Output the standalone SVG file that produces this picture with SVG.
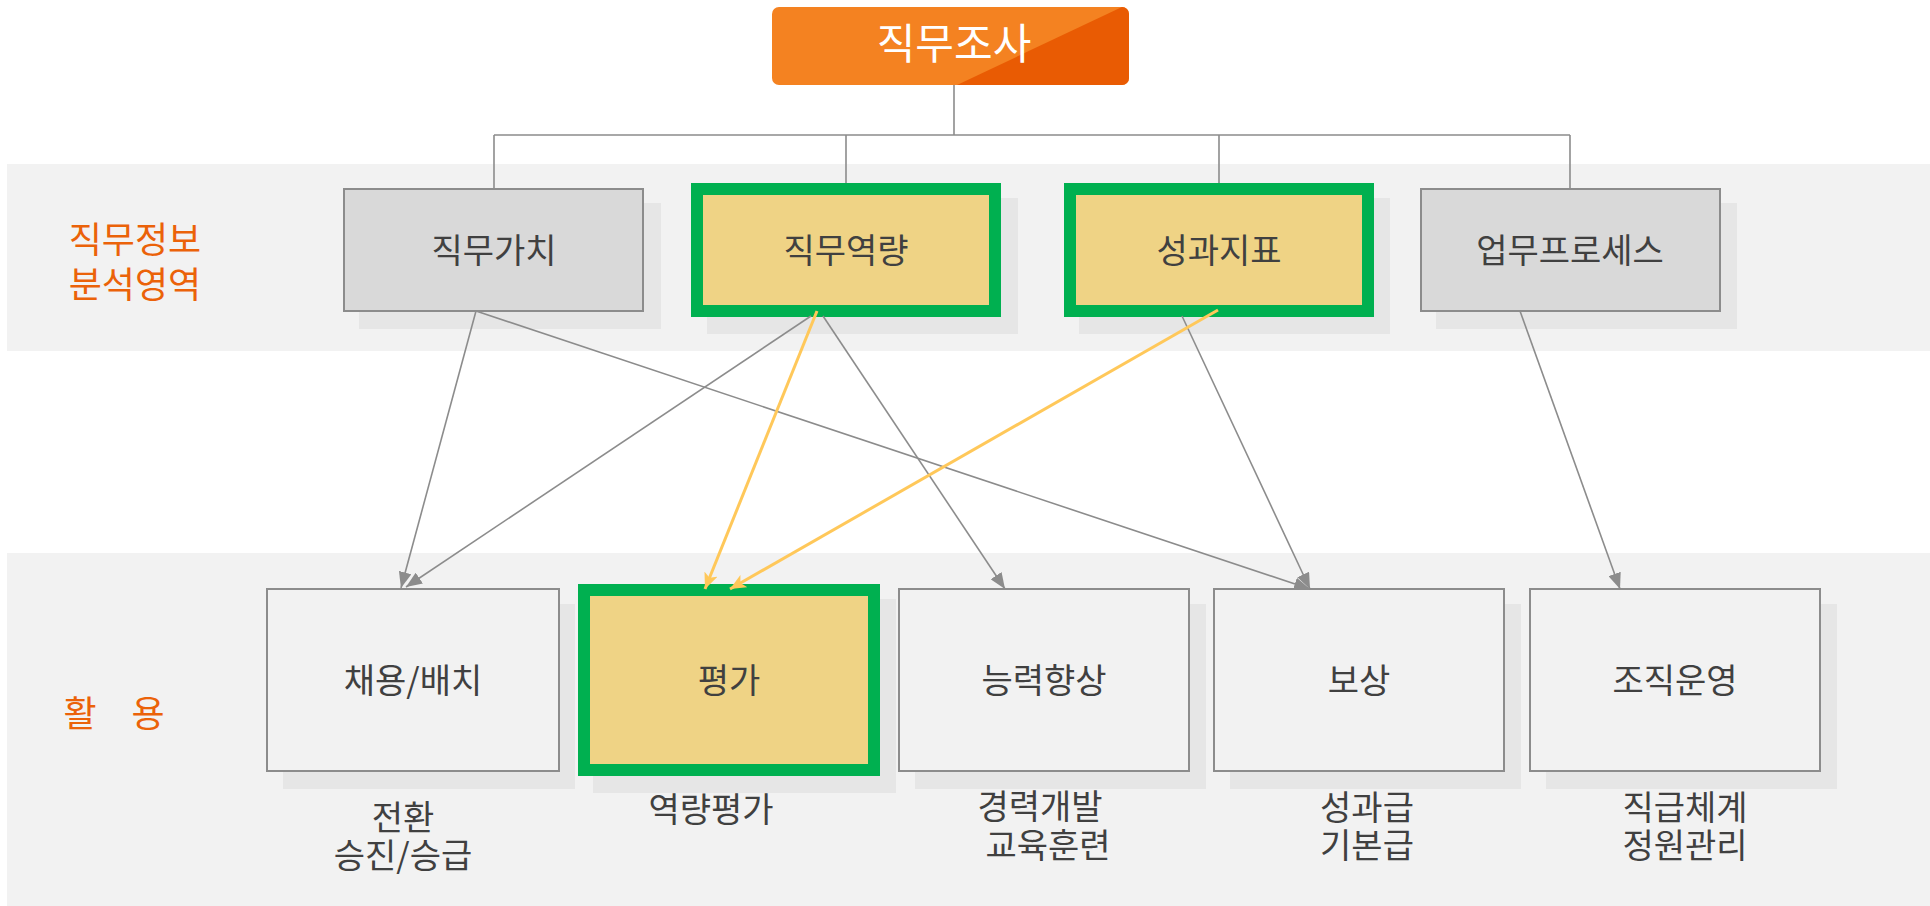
<svg xmlns="http://www.w3.org/2000/svg" width="1930" height="906" viewBox="0 0 1930 906">
<style>
.band{fill:#F2F2F2}
.shadow{fill:#E6E6E6}
.gbox{fill:#D9D9D9;stroke:#8C8C8C;stroke-width:2}
.lbox{fill:#F2F2F2;stroke:#8C8C8C;stroke-width:2}
.hbox{fill:#EFD385;stroke:#00B050;stroke-width:12}
.t{font-family:"Noto Sans CJK KR","Noto Sans",sans-serif;font-size:34px;fill:#404040;text-anchor:middle}
.side{font-family:"Noto Sans CJK KR","Noto Sans",sans-serif;font-size:36px;fill:#EB6209;text-anchor:middle}
.title{font-family:"Noto Sans CJK KR","Noto Sans",sans-serif;font-size:42px;fill:#FFFFFF;text-anchor:middle}
.tree{fill:none;stroke:#8C8C8C;stroke-width:1.6}
.g{fill:none;stroke:#8C8C8C;stroke-width:1.6;marker-end:url(#ag)}
.y{fill:none;stroke:#FFC85A;stroke-width:3;marker-end:url(#ay)}
</style>
<defs>
<marker id="ag" markerUnits="userSpaceOnUse" markerWidth="17" markerHeight="13" refX="16" refY="6.5" orient="auto">
<path d="M0,0 L16,6.5 L0,13 z" fill="#8C8C8C"/>
</marker>
<marker id="ay" markerUnits="userSpaceOnUse" markerWidth="17" markerHeight="14" refX="16" refY="7" orient="auto">
<path d="M0,0 L16,7 L0,14 L4,7 z" fill="#FFC85A"/>
</marker>
<clipPath id="topclip"><rect x="772" y="7" width="357" height="78" rx="7"/></clipPath>
</defs>
<rect class="band" x="7" y="164" width="1923" height="187"/>
<rect class="band" x="7" y="553" width="1923" height="353"/>
<text class="side" x="135" y="253">직무정보</text>
<text class="side" x="135" y="298">분석영역</text>
<text class="side" x="80" y="727">활</text>
<text class="side" x="148" y="727">용</text>
<g id="tree-lines">
<path class="tree" d="M954,85 V135 M494,135 H1570 M494,135 V189 M846,135 V183 M1219,135 V183 M1570,135 V189"/>
</g>
<g id="node-top">
<rect x="772" y="7" width="357" height="78" rx="7" fill="#F48221"/>
<polygon points="1129,7 1129,85 957,85 1122,7" fill="#E95B03" clip-path="url(#topclip)"/>
<text class="title" x="954" y="59">직무조사</text>
</g>
<g id="node-jikmugachi">
<rect class="shadow" x="359" y="203" width="302" height="126"/>
<rect class="gbox" x="344" y="189" width="299" height="122"/>
<text class="t" x="494" y="263">직무가치</text>
</g>
<g id="node-jikmuyeokryang">
<rect class="shadow" x="707" y="198" width="311" height="136"/>
<rect class="hbox" x="697" y="189" width="298" height="122"/>
<text class="t" x="846" y="263">직무역량</text>
</g>
<g id="node-seonggwajipyo">
<rect class="shadow" x="1079" y="198" width="311" height="136"/>
<rect class="hbox" x="1070" y="189" width="298" height="122"/>
<text class="t" x="1219" y="263">성과지표</text>
</g>
<g id="node-upmuprocess">
<rect class="shadow" x="1436" y="203" width="301" height="126"/>
<rect class="gbox" x="1421" y="189" width="299" height="122"/>
<text class="t" x="1570" y="263">업무프로세스</text>
</g>
<g id="node-chaeyong">
<rect class="shadow" x="283" y="604" width="292" height="185"/>
<rect class="lbox" x="267" y="589" width="292" height="182"/>
<text class="t" x="413" y="693">채용/배치</text>
<text class="t" x="403" y="830">전환</text>
<text class="t" x="403" y="868">승진/승급</text>
</g>
<g id="node-pyeongga">
<rect class="shadow" x="593" y="599" width="303" height="194"/>
<rect class="hbox" x="584" y="590" width="290" height="180"/>
<text class="t" x="729" y="693">평가</text>
<text class="t" x="711" y="822">역량평가</text>
</g>
<g id="node-neungryeok">
<rect class="shadow" x="915" y="604" width="291" height="185"/>
<rect class="lbox" x="899" y="589" width="290" height="182"/>
<text class="t" x="1044" y="693">능력향상</text>
<text class="t" x="1040" y="819">경력개발</text>
<text class="t" x="1048" y="858">교육훈련</text>
</g>
<g id="node-bosang">
<rect class="shadow" x="1230" y="604" width="291" height="185"/>
<rect class="lbox" x="1214" y="589" width="290" height="182"/>
<text class="t" x="1359" y="693">보상</text>
<text class="t" x="1367" y="820">성과급</text>
<text class="t" x="1367" y="858">기본급</text>
</g>
<g id="node-jojik">
<rect class="shadow" x="1546" y="604" width="291" height="185"/>
<rect class="lbox" x="1530" y="589" width="290" height="182"/>
<text class="t" x="1675" y="693">조직운영</text>
<text class="t" x="1685" y="820">직급체계</text>
<text class="t" x="1685" y="858">정원관리</text>
</g>
<g id="connectors">
<path class="g" d="M476,311 L401,588"/>
<path class="g" d="M476,311 L1310,589"/>
<path class="g" d="M811,316 L406,587"/>
<path class="g" d="M823,316 L1005,589"/>
<path class="g" d="M1182,316 L1310,589"/>
<path class="g" d="M1520,311 L1620,589"/>
<path class="y" d="M817,311 L705,589"/>
<path class="y" d="M1218,310 L730,589"/>
</g>
</svg>
